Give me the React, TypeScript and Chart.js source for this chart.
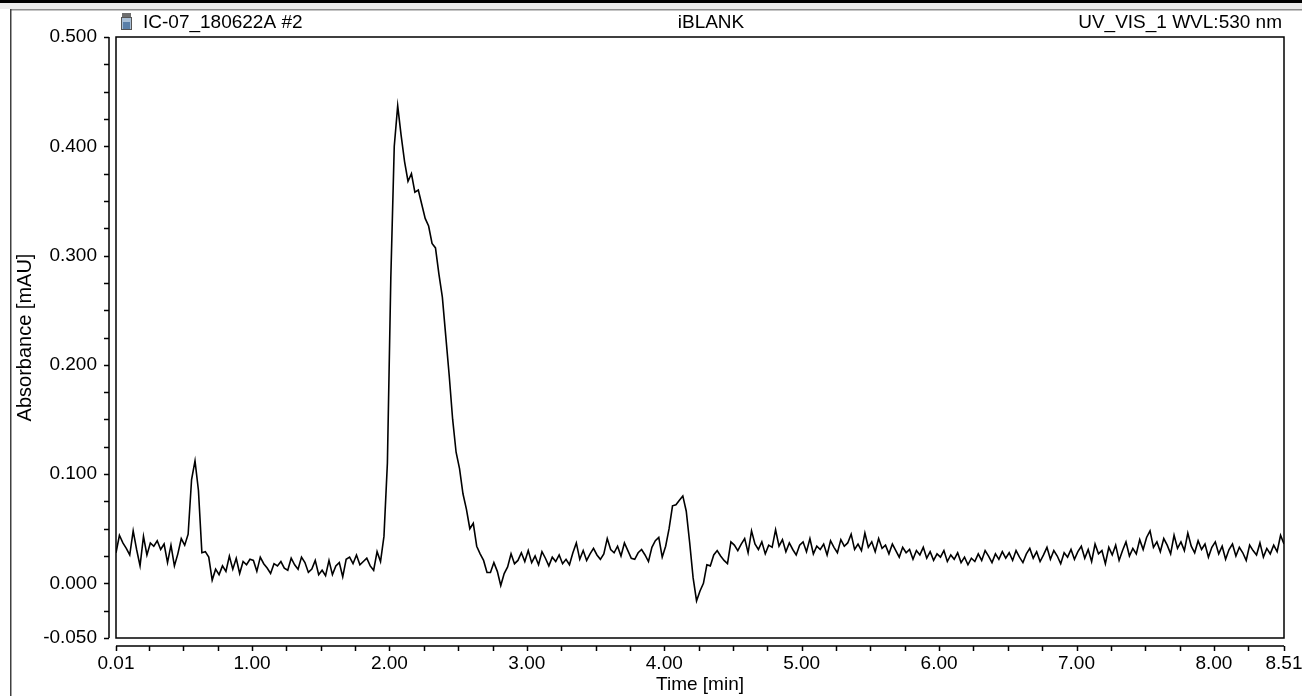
import React, { useEffect, useRef } from "react";
import { Chart, registerables } from "chart.js";

Chart.register(...registerables);

const W = 1302;
const H = 696;

const HEADER_LEFT = "IC-07_180622A #2";
const HEADER_CENTER = "iBLANK";
const HEADER_RIGHT = "UV_VIS_1 WVL:530 nm";
const X_TITLE = "Time [min]";
const Y_TITLE = "Absorbance [mAU]";

const X_MIN = 0.01;
const X_MAX = 8.51;
const Y_MIN = -0.05;
const Y_MAX = 0.5;

const X_TICKS = [0.01, 0.25, 0.5, 0.75, 1, 1.25, 1.5, 1.75, 2, 2.25, 2.5, 2.75, 3, 3.25, 3.5, 3.75, 4, 4.25, 4.5, 4.75, 5, 5.25, 5.5, 5.75, 6, 6.25, 6.5, 6.75, 7, 7.25, 7.5, 7.75, 8, 8.25, 8.51];
const X_LABELED = [0.01, 1, 2, 3, 4, 5, 6, 7, 8, 8.51];
const Y_TICKS = [-0.05, -0.025, 0, 0.025, 0.05, 0.075, 0.1, 0.125, 0.15, 0.175, 0.2, 0.225, 0.25, 0.275, 0.3, 0.325, 0.35, 0.375, 0.4, 0.425, 0.45, 0.475, 0.5];
const Y_LABELED = [-0.05, 0, 0.1, 0.2, 0.3, 0.4, 0.5];

// detector sampling grid (min)
const SAMPLE_START = 0.01;
const SAMPLE_STEP = 0.025;

// absorbance readings [mAU], one row per 0.5 min
const ABSORBANCE = [
  0.028, 0.044, 0.037, 0.032, 0.026, 0.048, 0.031, 0.016, 0.043, 0.026, 0.037, 0.034, 0.039, 0.031, 0.036, 0.019, 0.035, 0.016, 0.027, 0.041,
  0.035, 0.045, 0.095, 0.112, 0.085, 0.028, 0.029, 0.024, 0.003, 0.013, 0.008, 0.016, 0.011, 0.025, 0.013, 0.023, 0.009, 0.02, 0.017, 0.022,
  0.021, 0.011, 0.024, 0.018, 0.014, 0.009, 0.018, 0.016, 0.02, 0.014, 0.012, 0.023, 0.017, 0.013, 0.024, 0.019, 0.01, 0.013, 0.021, 0.008,
  0.012, 0.007, 0.021, 0.008, 0.016, 0.019, 0.006, 0.022, 0.024, 0.018, 0.026, 0.017, 0.02, 0.023, 0.016, 0.012, 0.029, 0.02, 0.043, 0.11,
  0.28, 0.40, 0.437, 0.41, 0.386, 0.368, 0.375, 0.358, 0.36, 0.347, 0.334, 0.327, 0.311, 0.307, 0.283, 0.262, 0.226, 0.19, 0.15, 0.12,
  0.105, 0.082, 0.068, 0.05, 0.055, 0.034, 0.027, 0.021, 0.01, 0.01, 0.019, 0.011, -0.002, 0.009, 0.015, 0.027, 0.018, 0.021, 0.028, 0.02,
  0.03, 0.019, 0.025, 0.017, 0.029, 0.023, 0.016, 0.024, 0.02, 0.026, 0.018, 0.022, 0.017, 0.028, 0.037, 0.022, 0.03, 0.021, 0.027, 0.032,
  0.026, 0.022, 0.027, 0.041, 0.031, 0.028, 0.034, 0.025, 0.037, 0.03, 0.023, 0.022, 0.028, 0.031, 0.026, 0.02, 0.033, 0.039, 0.042, 0.024,
  0.034, 0.05, 0.071, 0.072, 0.076, 0.08, 0.066, 0.037, 0.005, -0.016, -0.007, 0.0, 0.017, 0.016, 0.026, 0.03, 0.025, 0.021, 0.018, 0.038,
  0.035, 0.03, 0.036, 0.041, 0.028, 0.048, 0.036, 0.031, 0.038, 0.027, 0.035, 0.033, 0.049, 0.034, 0.04, 0.029, 0.037, 0.031, 0.026, 0.035,
  0.038, 0.029, 0.041, 0.027, 0.034, 0.031, 0.036, 0.026, 0.039, 0.033, 0.028, 0.04, 0.034, 0.037, 0.045, 0.031, 0.036, 0.03, 0.046, 0.033,
  0.038, 0.029, 0.041, 0.032, 0.035, 0.027, 0.036, 0.03, 0.024, 0.033, 0.028, 0.031, 0.022, 0.03, 0.026, 0.033, 0.023, 0.029, 0.021, 0.027,
  0.024, 0.03, 0.02, 0.026, 0.022, 0.028, 0.019, 0.024, 0.017, 0.023, 0.02, 0.027, 0.021, 0.03, 0.025, 0.019, 0.027, 0.022, 0.029, 0.023,
  0.028, 0.021, 0.03, 0.024, 0.019, 0.027, 0.032, 0.023, 0.029, 0.02, 0.026, 0.033, 0.022, 0.03, 0.025, 0.018, 0.028, 0.024, 0.031, 0.022,
  0.029, 0.034, 0.023, 0.031, 0.02, 0.036, 0.027, 0.03, 0.018, 0.033, 0.026, 0.035, 0.021, 0.03, 0.038, 0.025, 0.032, 0.027, 0.04, 0.031,
  0.042, 0.048, 0.033, 0.038, 0.029, 0.041, 0.035, 0.027, 0.044, 0.032, 0.038, 0.03, 0.046, 0.034, 0.028, 0.039, 0.031, 0.036, 0.024, 0.033,
  0.038, 0.027, 0.034, 0.022, 0.031, 0.036, 0.025, 0.033, 0.028, 0.021, 0.035, 0.03, 0.026, 0.037, 0.024, 0.032, 0.027, 0.035, 0.029, 0.044, 0.036,
];

const FONT_FAMILY = '"Liberation Sans", Arial, Helvetica, sans-serif';
const FONT_SIZE = 19;

const near = (list: number[], v: number) => list.some((l) => Math.abs(l - v) < 1e-9);

const framePlugin = {
  id: "chromFrame",
  beforeDraw(chart: any) {
    const ctx = chart.ctx;
    ctx.save();
    ctx.fillStyle = "#ffffff";
    ctx.fillRect(0, 0, W, H);
    ctx.restore();
  },
  afterDraw(chart: any) {
    const ctx: CanvasRenderingContext2D = chart.ctx;
    const a = chart.chartArea;
    const xs = chart.scales.x;
    const ys = chart.scales.y;
    ctx.save();
    // window frame
    ctx.fillStyle = "#ececec";
    ctx.fillRect(0, 0, W, 9);
    ctx.fillStyle = "#000000";
    ctx.fillRect(0, 0, W, 3);
    ctx.fillStyle = "#8c8c8c";
    ctx.fillRect(10, 9, W - 10, 1.5);
    ctx.fillStyle = "#404040";
    ctx.fillRect(10, 9, 1.5, H - 9);

    ctx.strokeStyle = "#000000";
    ctx.lineWidth = 1.5;
    // plot box
    ctx.strokeRect(a.left, a.top, a.right - a.left, a.bottom - a.top);

    // y axis (offset left)
    const ax = a.left - 7;
    ctx.beginPath();
    ctx.moveTo(ax, a.top);
    ctx.lineTo(ax, a.bottom);
    ys.ticks.forEach((t: any) => {
      const py = Math.round(ys.getPixelForValue(t.value)) + 0.5;
      ctx.moveTo(ax - 5, py);
      ctx.lineTo(ax, py);
    });
    ctx.stroke();

    // x axis (offset below)
    const ay = a.bottom + 8;
    ctx.beginPath();
    ctx.moveTo(a.left, ay);
    ctx.lineTo(a.right, ay);
    xs.ticks.forEach((t: any) => {
      const px = Math.round(xs.getPixelForValue(t.value)) + 0.5;
      ctx.moveTo(px, ay);
      ctx.lineTo(px, ay + 5);
    });
    ctx.stroke();

    // vial icon
    ctx.fillStyle = "#6e6e6e";
    ctx.fillRect(122, 13, 9, 4);
    ctx.fillStyle = "#a9bfd6";
    ctx.fillRect(121, 17, 11, 13);
    ctx.fillStyle = "#5a7fa8";
    ctx.fillRect(123, 22, 7, 7);
    ctx.strokeStyle = "#555555";
    ctx.lineWidth = 1;
    ctx.strokeRect(121.5, 17.5, 10, 12);

    // header texts
    ctx.fillStyle = "#000000";
    ctx.font = `${FONT_SIZE}px ${FONT_FAMILY}`;
    ctx.textBaseline = "middle";
    ctx.textAlign = "left";
    ctx.fillText(HEADER_LEFT, 143, 23);
    ctx.textAlign = "center";
    ctx.fillText(HEADER_CENTER, 711, 23);
    ctx.textAlign = "right";
    ctx.fillText(HEADER_RIGHT, 1282, 23);
    ctx.restore();
  },
};

export default function App() {
  const canvasRef = useRef<HTMLCanvasElement | null>(null);

  useEffect(() => {
    const canvas = canvasRef.current;
    if (!canvas) return;
    const points = ABSORBANCE.map((v, i) => ({
      x: +(SAMPLE_START + i * SAMPLE_STEP).toFixed(3),
      y: v,
    }));
    const chart = new Chart(canvas, {
      type: "line",
      data: {
        datasets: [
          {
            data: points,
            borderColor: "#000000",
            borderWidth: 1.6,
            pointRadius: 0,
            tension: 0,
            fill: false,
          },
        ],
      },
      options: {
        animation: false,
        responsive: false,
        devicePixelRatio: 1,
        events: [],
        layout: { padding: { left: 0, top: 37, right: 18, bottom: 0 } },
        plugins: {
          legend: { display: false },
          tooltip: { enabled: false },
          title: { display: false },
        },
        scales: {
          x: {
            type: "linear",
            min: X_MIN,
            max: X_MAX,
            grid: { display: false, drawTicks: false },
            border: { display: false },
            afterBuildTicks: (scale: any) => {
              scale.ticks = X_TICKS.map((value) => ({ value }));
            },
            afterFit: (scale: any) => {
              scale.height = 58;
              scale.paddingLeft = 0;
              scale.paddingRight = 0;
            },
            ticks: {
              autoSkip: false,
              maxRotation: 0,
              minRotation: 0,
              padding: 14,
              color: "#000000",
              font: { family: FONT_FAMILY, size: FONT_SIZE },
              callback: (v: any) => {
                const n = Number(v);
                return near(X_LABELED, n) ? n.toFixed(2) : "";
              },
            },
            title: {
              display: true,
              text: X_TITLE,
              color: "#000000",
              font: { family: FONT_FAMILY, size: FONT_SIZE },
              padding: { top: 0, bottom: 0 },
            },
          },
          y: {
            type: "linear",
            min: Y_MIN,
            max: Y_MAX,
            grid: { display: false, drawTicks: false },
            border: { display: false },
            afterBuildTicks: (scale: any) => {
              scale.ticks = Y_TICKS.map((value) => ({ value }));
            },
            afterFit: (scale: any) => {
              scale.width = 116;
              scale.paddingTop = 0;
              scale.paddingBottom = 0;
            },
            ticks: {
              autoSkip: false,
              padding: 19,
              color: "#000000",
              font: { family: FONT_FAMILY, size: FONT_SIZE },
              callback: (v: any) => {
                const n = Number(v);
                return near(Y_LABELED, n) ? n.toFixed(3) : "";
              },
            },
            title: {
              display: true,
              text: Y_TITLE,
              color: "#000000",
              font: { family: FONT_FAMILY, size: 20 },
              padding: { top: 13, bottom: 0 },
            },
          },
        },
      },
      plugins: [framePlugin],
    } as any);
    return () => chart.destroy();
  }, []);

  return (
    <div style={{ position: "fixed", left: 0, top: 0, width: W, height: H, background: "#fff" }}>
      <canvas ref={canvasRef} width={W} height={H} style={{ display: "block", width: W, height: H }} />
    </div>
  );
}
